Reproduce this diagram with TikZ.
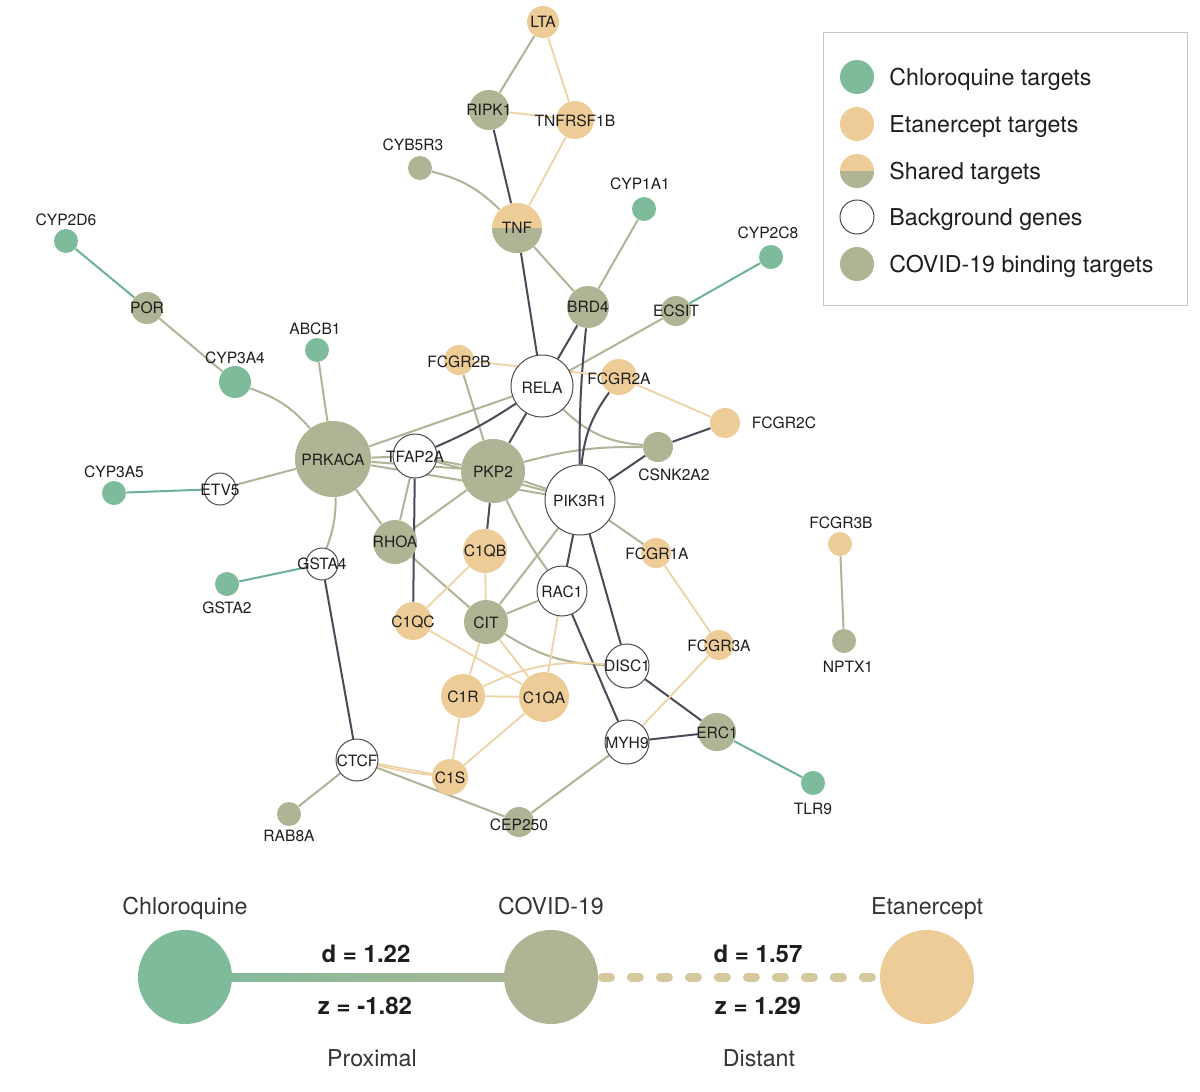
\documentclass[tikz,border=0pt]{standalone}
\usepackage{fontspec}
\setmainfont{TeX Gyre Heros}
\usetikzlibrary{calc}
\pgfdeclarelayer{back}
\pgfdeclarelayer{edges}
\pgfsetlayers{back,edges,main}
\definecolor{chl}{HTML}{7DBB9B}
\definecolor{etn}{HTML}{EECC98}
\definecolor{cov}{HTML}{AFB594}
\definecolor{edgg}{HTML}{B0B398}
\definecolor{eddk}{HTML}{4E4858}
\definecolor{edor}{HTML}{EDD3A6}
\definecolor{edgr}{HTML}{6DB393}
\definecolor{txt}{HTML}{1E1E1E}
\definecolor{dashc}{HTML}{D5C89D}
\begin{document}
\begin{tikzpicture}[x=0.5pt,y=-0.5pt,
 gn/.style={circle,inner sep=0pt,minimum size=#1pt},
 chlN/.style={gn=#1,fill=chl},
 etnN/.style={gn=#1,fill=etn},
 covN/.style={gn=#1,fill=cov},
 bgN/.style={gn=#1,fill=white,draw=black!70,line width=0.5pt},
 shN/.style={gn=#1,fill=etn,path picture={\fill[cov] (path picture bounding box.west) rectangle (path picture bounding box.south east);}},
 lb/.style={font=\fontsize{7.8}{9}\selectfont,text=txt,inner sep=0pt},
 lgt/.style={font=\fontsize{11.6}{14}\selectfont,text=txt,inner sep=0pt,anchor=base west},
 bt/.style={font=\fontsize{11.6}{14}\selectfont,text=txt!90,inner sep=0pt,anchor=base},
 bb/.style={font=\bfseries\fontsize{12}{14}\selectfont,text=txt,inner sep=0pt,anchor=base},
 gg/.style={draw=edgg,line width=1pt},
 dk/.style={draw=eddk,line width=1pt},
 oe/.style={draw=edor,line width=0.9pt},
 ge/.style={draw=edgr,line width=1pt},
]
\begin{pgfonlayer}{back}
\fill[white] (0,0) rectangle (1200,1092);
\end{pgfonlayer}
\useasboundingbox (0,0) rectangle (1200,1092);

% ---------- nodes ----------
\node[etnN=16] (LTA) at (543,22) {};
\node[covN=20] (RIPK1) at (489,110) {};
\node[etnN=19] (TNFRSF1B) at (575,120) {};
\node[covN=12] (CYB5R3) at (420,168) {};
\node[shN=25] (TNF) at (517,228) {};
\node[chlN=12] (CYP1A1) at (644,209) {};
\node[chlN=12] (CYP2D6) at (66,241) {};
\node[chlN=12] (CYP2C8) at (771,257) {};
\node[covN=16] (POR) at (147,308) {};
\node[covN=21] (BRD4) at (588,307) {};
\node[covN=15] (ECSIT) at (676,311) {};
\node[chlN=12] (ABCB1) at (317,350) {};
\node[chlN=16] (CYP3A4) at (235,382) {};
\node[etnN=15] (FCGR2B) at (459,360) {};
\node[bgN=31] (RELA) at (542,386) {};
\node[etnN=18] (FCGR2A) at (619,377) {};
\node[etnN=15] (FCGR2C) at (725,423) {};
\node[covN=38] (PRKACA) at (333,459) {};
\node[bgN=22] (TFAP2A) at (415,456) {};
\node[covN=32] (PKP2) at (493,471) {};
\node[covN=15] (CSNK2A2) at (658,447) {};
\node[bgN=35] (PIK3R1) at (580,500) {};
\node[chlN=12] (CYP3A5) at (114,493) {};
\node[bgN=16] (ETV5) at (220,489) {};
\node[etnN=12] (FCGR3B) at (840,544) {};
\node[covN=22] (RHOA) at (395,542) {};
\node[etnN=22] (C1QB) at (485,551) {};
\node[etnN=15] (FCGR1A) at (656,553) {};
\node[bgN=16] (GSTA4) at (322,564) {};
\node[chlN=12] (GSTA2) at (227,584) {};
\node[bgN=25] (RAC1) at (562,591) {};
\node[etnN=19] (C1QC) at (413,621) {};
\node[covN=22] (CIT) at (486,622) {};
\node[covN=12] (NPTX1) at (844,641) {};
\node[etnN=15] (FCGR3A) at (719,645) {};
\node[bgN=22] (DISC1) at (627,666) {};
\node[etnN=22] (C1R) at (463,696) {};
\node[etnN=25] (C1QA) at (544,697) {};
\node[covN=19] (ERC1) at (717,732) {};
\node[bgN=22] (MYH9) at (627,742) {};
\node[bgN=21] (CTCF) at (357,760) {};
\node[etnN=18] (C1S) at (450,777) {};
\node[chlN=12] (TLR9) at (813,783) {};
\node[covN=12] (RAB8A) at (289,814) {};
\node[covN=15] (CEP250) at (519,822) {};

% ---------- edges ----------
\begin{pgfonlayer}{edges}
% gray-green
\draw[gg] (LTA) -- (RIPK1);
\draw[gg] (CYB5R3) to[bend left=15] (TNF);
\draw[gg] (TNF) -- (BRD4);
\draw[gg] (CYP1A1) -- (BRD4);
\draw[gg] (POR) -- (CYP3A4);
\draw[gg] (CYP3A4) to[bend left=15] (PRKACA);
\draw[gg] (ABCB1) -- (PRKACA);
\draw[gg] (ECSIT) -- (RELA);
\draw[gg] (PRKACA) -- (ETV5);
\draw[gg] (PRKACA) to[bend left=10] (GSTA4);
\draw[gg] (PRKACA) -- (RHOA);
\draw[gg] (PRKACA) -- (TFAP2A);
\draw[gg] (PRKACA) -- (RELA);
\draw[gg] (PRKACA) -- (PKP2);
\draw[gg] (PRKACA) -- (PIK3R1);
\draw[gg] (TFAP2A) -- (PKP2);
\draw[gg] (TFAP2A) -- (PIK3R1);
\draw[gg] (PKP2) -- (PIK3R1);
\draw[gg] (FCGR2B) -- (PKP2);
\draw[gg] (RELA) to[bend right=20] (CSNK2A2);
\draw[gg] (PKP2) to[bend left=8] (CSNK2A2);
\draw[gg] (TFAP2A) -- (RHOA);
\draw[gg] (PKP2) -- (RHOA);
\draw[gg] (RHOA) -- (CIT);
\draw[gg] (PKP2) to[bend right=5] (RAC1);
\draw[gg] (PIK3R1) -- (CIT);
\draw[gg] (PIK3R1) -- (FCGR1A);
\draw[gg] (RAC1) -- (CIT);
\draw[gg] (CIT) to[bend right=15] (DISC1);
\draw[gg] (CTCF) -- (CEP250);
\draw[gg] (CTCF) -- (RAB8A);
\draw[gg] (CEP250) -- (MYH9);
\draw[gg] (FCGR3B) -- (NPTX1);
% dark
\draw[dk] (RIPK1) -- (TNF);
\draw[dk] (TNF) -- (RELA);
\draw[dk] (BRD4) -- (RELA);
\draw[dk] (BRD4) to[bend right=3] (PIK3R1);
\draw[dk] (FCGR2A) to[bend right=15] (PIK3R1);
\draw[dk] (FCGR2C) -- (CSNK2A2);
\draw[dk] (CSNK2A2) -- (PIK3R1);
\draw[dk] (TFAP2A) to[bend right=5] (RELA);
\draw[dk] (RELA) -- (PKP2);
\draw[dk] (TFAP2A) -- (C1QC);
\draw[dk] (PKP2) -- (C1QB);
\draw[dk] (PIK3R1) -- (RAC1);
\draw[dk] (PIK3R1) -- (DISC1);
\draw[dk] (RAC1) -- (MYH9);
\draw[dk] (GSTA4) -- (CTCF);
\draw[dk] (MYH9) -- (ERC1);
\draw[dk] (DISC1) -- (ERC1);
% orange
\draw[oe] (LTA) -- (TNFRSF1B);
\draw[oe] (RIPK1) -- (TNFRSF1B);
\draw[oe] (TNFRSF1B) -- (TNF);
\draw[oe] (FCGR2B) -- (FCGR2A);
\draw[oe] (FCGR2A) -- (FCGR2C);
\draw[oe] (FCGR1A) -- (FCGR3A);
\draw[oe] (FCGR3A) -- (MYH9);
\draw[oe] (C1QB) -- (C1QC);
\draw[oe] (C1QB) -- (CIT);
\draw[oe] (RAC1) -- (C1QA);
\draw[oe] (C1QC) -- (C1QA);
\draw[oe] (CIT) -- (C1QA);
\draw[oe] (CIT) -- (C1R);
\draw[oe] (C1R) -- (C1QA);
\draw[oe] (C1R) to[bend left=15] (DISC1);
\draw[oe] (C1R) -- (C1S);
\draw[oe] (C1QA) -- (C1S);
\draw[oe] (CTCF) -- (C1S);
\draw[oe] (CTCF) to[bend right=4] (C1S);
% green
\draw[ge] (CYP2D6) -- (POR);
\draw[ge] (CYP2C8) -- (ECSIT);
\draw[ge] (ETV5) -- (CYP3A5);
\draw[ge] (GSTA4) -- (GSTA2);
\draw[ge] (ERC1) -- (TLR9);
\end{pgfonlayer}

% ---------- labels ----------
\node[lb] (tLTA) at (543,22) {LTA};
\node[lb] (tRIPK1) at (489,110) {RIPK1};
\node[lb] (tTNFRSF1B) at (575,121) {TNFRSF1B};
\node[lb] (tCYB5R3) at (413,145) {CYB5R3};
\node[lb] (tTNF) at (517,228) {TNF};
\node[lb] (tCYP1A1) at (640,184) {CYP1A1};
\node[lb] (tCYP2D6) at (66,220) {CYP2D6};
\node[lb] (tCYP2C8) at (768,233) {CYP2C8};
\node[lb] (tPOR) at (147,308) {POR};
\node[lb] (tBRD4) at (588,307) {BRD4};
\node[lb] (tECSIT) at (676,311) {ECSIT};
\node[lb] (tABCB1) at (315,329) {ABCB1};
\node[lb] (tCYP3A4) at (235,358) {CYP3A4};
\node[lb] (tFCGR2B) at (459,362) {FCGR2B};
\node[lb] (tRELA) at (542,388) {RELA};
\node[lb] (tFCGR2A) at (619,379) {FCGR2A};
\node[lb] (tFCGR2C) at (784,423) {FCGR2C};
\node[lb] (tPRKACA) at (333,460) {PRKACA};
\node[lb] (tTFAP2A) at (415,457) {TFAP2A};
\node[lb] (tPKP2) at (493,472) {PKP2};
\node[lb] (tCSNK2A2) at (674,475) {CSNK2A2};
\node[lb] (tPIK3R1) at (580,501) {PIK3R1};
\node[lb] (tCYP3A5) at (114,472) {CYP3A5};
\node[lb] (tETV5) at (220,490) {ETV5};
\node[lb] (tFCGR3B) at (841,523) {FCGR3B};
\node[lb] (tRHOA) at (395,542) {RHOA};
\node[lb] (tC1QB) at (485,551) {C1QB};
\node[lb] (tFCGR1A) at (657,554) {FCGR1A};
\node[lb] (tGSTA4) at (322,564) {GSTA4};
\node[lb] (tGSTA2) at (227,608) {GSTA2};
\node[lb] (tRAC1) at (562,592) {RAC1};
\node[lb] (tC1QC) at (413,622) {C1QC};
\node[lb] (tCIT) at (486,623) {CIT};
\node[lb] (tNPTX1) at (848,667) {NPTX1};
\node[lb] (tFCGR3A) at (719,646) {FCGR3A};
\node[lb] (tDISC1) at (627,666) {DISC1};
\node[lb] (tC1R) at (463,697) {C1R};
\node[lb] (tC1QA) at (544,698) {C1QA};
\node[lb] (tERC1) at (717,733) {ERC1};
\node[lb] (tMYH9) at (627,743) {MYH9};
\node[lb] (tCTCF) at (357,761) {CTCF};
\node[lb] (tC1S) at (450,778) {C1S};
\node[lb] (tTLR9) at (813,809) {TLR9};
\node[lb] (tRAB8A) at (289,836) {RAB8A};
\node[lb] (tCEP250) at (519,825) {CEP250};

% ---------- legend ----------
\node[draw=black!22,line width=0.5pt,minimum width=182pt,minimum height=136.5pt,inner sep=0pt] (legend) at (1005,168.5) {};
\node[chlN=17] (lg1) at (857,77) {};
\node[etnN=17] (lg2) at (857,124) {};
\node[shN=17] (lg3) at (857,171) {};
\node[bgN=17] (lg4) at (857,217) {};
\node[covN=17] (lg5) at (857,264) {};
\node[lgt] (lt1) at (889,85) {Chloroquine targets};
\node[lgt] (lt2) at (889,132) {Etanercept targets};
\node[lgt] (lt3) at (889,179) {Shared targets};
\node[lgt] (lt4) at (889,225) {Background genes};
\node[lgt] (lt5) at (889,272) {COVID-19 binding targets};

% ---------- bottom summary ----------
\node[gn=47,fill=chl] (chlB) at (185,977) {};
\node[gn=47,fill=cov] (covB) at (551,977) {};
\node[gn=47,fill=etn] (etnB) at (927,977) {};
\begin{pgfonlayer}{edges}
\shade[left color=chl,right color=cov] ($(chlB.center)+(0,-4)$) rectangle ($(covB.center)+(0,4)$);
\draw[dashc,line width=4.5pt,line cap=round,dash pattern=on 4pt off 10.5pt,dash phase=-2pt] (covB.east) -- (etnB.west);
\end{pgfonlayer}
\node[bt] (bC) at (185,914) {Chloroquine};
\node[bt] (bV) at (551,914) {COVID-19};
\node[bt] (bE) at (927,914) {Etanercept};
\node[bb] (d1) at (366,962) {d = 1.22};
\node[bb] (z1) at (365,1014) {z = -1.82};
\node[bt] (p1) at (372,1066) {Proximal};
\node[bb] (d2) at (758,962) {d = 1.57};
\node[bb] (z2) at (758,1014) {z = 1.29};
\node[bt] (p2) at (759,1066) {Distant};
\end{tikzpicture}
\end{document}
